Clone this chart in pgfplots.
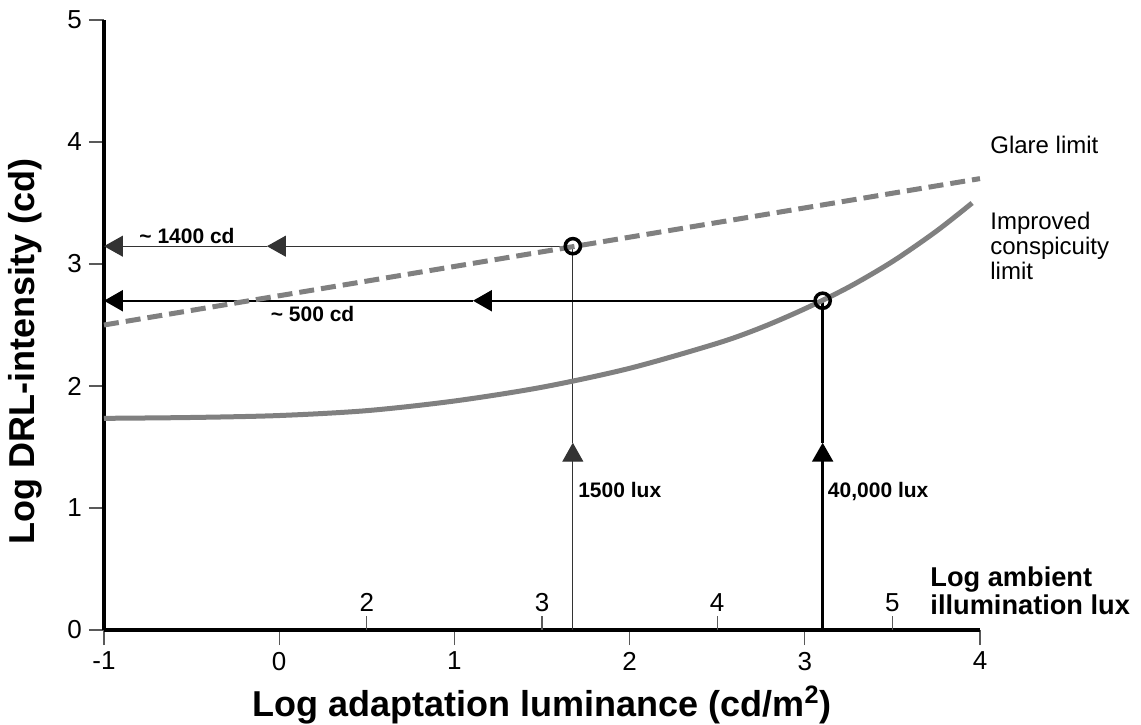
\documentclass[border=0pt]{standalone}
\usepackage{fontspec}
\setmainfont{Liberation Sans}
\usepackage{pgfplots}
\pgfplotsset{compat=1.18}
\usetikzlibrary{arrows.meta}
\definecolor{curvegray}{RGB}{128,128,128}
\begin{document}
\begin{tikzpicture}
\path[use as bounding box] (-52pt,-47pt) rectangle (518.5pt,315pt);
\begin{axis}[
  at={(0,0)}, anchor=south west,
  scale only axis, width=438pt, height=305pt,
  xmin=-1, xmax=4, ymin=0, ymax=5,
  axis lines=left,
  axis line style={-, line width=1.8pt},
  xtick={-1,0,1,2,3,4}, xticklabels={-1,0,1,2,3,4},
  ytick={0,1,2,3,4,5}, yticklabels={0,1,2,3,4,5},
  tick align=outside,
  major tick length=7.5pt,
  tick style={black!65, line width=0.6pt},
  tick label style={font=\fontsize{13}{15}\selectfont},
  clip=false,
  xlabel={Log adaptation luminance (cd/m\textsuperscript{2})},
  ylabel={Log DRL-intensity (cd)},
  label style={font=\bfseries\fontsize{18}{20}\selectfont},
  xlabel style={at={(axis description cs:0.5,-0.123)}, anchor=center},
  ylabel style={at={(axis description cs:-0.0902,0.456)}, anchor=center},
]
% secondary (lux) ticks
\draw[black!65, line width=0.6pt] (axis cs:0.5,0) -- ([yshift=7pt]axis cs:0.5,0);
\draw[black!65, line width=0.6pt] (axis cs:1.5,0) -- ([yshift=7pt]axis cs:1.5,0);
\draw[black!65, line width=0.6pt] (axis cs:2.5,0) -- ([yshift=7pt]axis cs:2.5,0);
\draw[black!65, line width=0.6pt] (axis cs:3.5,0) -- ([yshift=7pt]axis cs:3.5,0);
\node[anchor=south, inner sep=0pt, font=\fontsize{13}{15}\selectfont] at ([yshift=9pt]axis cs:0.5,0) {2};
\node[anchor=south, inner sep=0pt, font=\fontsize{13}{15}\selectfont] at ([yshift=9pt]axis cs:1.5,0) {3};
\node[anchor=south, inner sep=0pt, font=\fontsize{13}{15}\selectfont] at ([yshift=9pt]axis cs:2.5,0) {4};
\node[anchor=south, inner sep=0pt, font=\fontsize{13}{15}\selectfont] at ([yshift=9pt]axis cs:3.5,0) {5};
% thin guide lines (1500 lux -> 1400 cd)
\addplot[black!80, line width=0.6pt, -{Triangle[length=9.5pt,width=10.5pt]}] coordinates {(1.676,0) (1.676,1.535)};
\addplot[black!80, line width=0.6pt] coordinates {(1.676,1.535) (1.676,3.146)};
\addplot[black!80, line width=0.6pt, -{Triangle[length=9.5pt,width=10.5pt]}] coordinates {(1.676,3.146) (-0.07,3.146)};
\addplot[black!80, line width=0.6pt, -{Triangle[length=9.5pt,width=10.5pt]}] coordinates {(-0.07,3.146) (-1,3.146)};
% thick guide lines (40,000 lux -> 500 cd)
\addplot[black, line width=1.2pt, -{Triangle[length=9.5pt,width=10.5pt]}] coordinates {(3.102,0) (3.102,1.535)};
\addplot[black, line width=1.2pt] coordinates {(3.102,1.535) (3.102,2.699)};
\addplot[black, line width=1.2pt, -{Triangle[length=9.5pt,width=10.5pt]}] coordinates {(3.102,2.699) (1.106,2.699)};
\addplot[black, line width=1.2pt, -{Triangle[length=9.5pt,width=10.5pt]}] coordinates {(1.106,2.699) (-1,2.699)};
% glare limit
\addplot[curvegray, line width=2.5pt, dash pattern=on 7.5pt off 3.5pt] coordinates {(-1,2.5) (4,3.7)};
% improved conspicuity limit
\addplot[curvegray, line width=2.5pt, smooth] coordinates {
  (-1,1.735) (-0.5,1.742) (0,1.758) (0.5,1.798) (1,1.877) (1.5,1.99)
  (2,2.145) (2.5,2.35) (2.75,2.478) (3,2.633) (3.25,2.81) (3.5,3.02) (3.75,3.268) (3.955,3.50)};
% circles
\addplot[only marks, mark=o, mark size=3.8pt, mark options={line width=1.75pt, black}] coordinates {(1.676,3.146) (3.102,2.699)};
% annotations
\node[anchor=base west, inner sep=0pt, font=\bfseries\fontsize{10.5}{12}\selectfont] at (axis cs:-0.80,3.17) {\textasciitilde{} 1400 cd};
\node[anchor=base west, inner sep=0pt, font=\bfseries\fontsize{10.5}{12}\selectfont] at (axis cs:-0.05,2.527) {\textasciitilde{} 500 cd};
\node[anchor=base west, inner sep=0pt, font=\bfseries\fontsize{10.5}{12}\selectfont] at (axis cs:1.705,1.09) {1500 lux};
\node[anchor=base west, inner sep=0pt, font=\bfseries\fontsize{10.5}{12}\selectfont] at (axis cs:3.13,1.09) {40,000 lux};
\node[anchor=west, inner sep=0pt, font=\fontsize{12}{13}\selectfont] at (axis cs:4.057,3.975) {Glare limit};
\node[anchor=west, align=left, inner sep=0pt, font=\fontsize{12}{12.5}\selectfont] at (axis cs:4.057,3.15) {Improved\\conspicuity\\limit};
\node[anchor=west, align=left, inner sep=0pt, font=\bfseries\fontsize{13.6}{14}\selectfont] at (axis cs:3.715,0.32) {Log ambient\\illumination lux};
\end{axis}
\end{tikzpicture}
\end{document}
